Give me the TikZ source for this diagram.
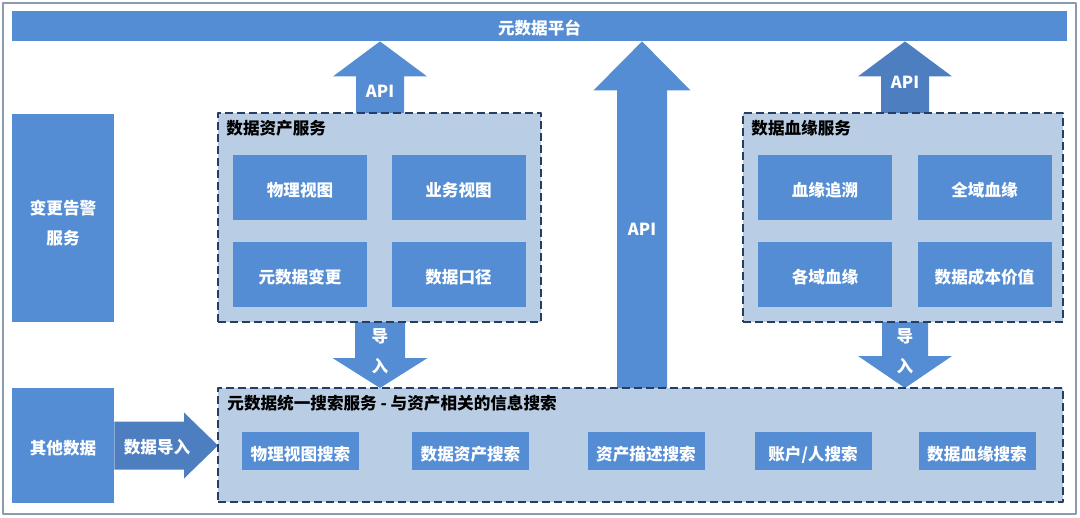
\documentclass[tikz,border=0pt]{standalone}
\usepackage{fontspec}
\setmainfont{Noto Sans CJK SC}
\usetikzlibrary{calc}
\definecolor{mainblue}{RGB}{84,141,212}
\definecolor{darkblue}{RGB}{76,126,192}
\definecolor{paleblue}{RGB}{185,205,228}
\definecolor{navy}{RGB}{38,62,100}
\definecolor{framegray}{RGB}{140,154,174}
% block arrow: style, from, to, shaft half width, head half width, head length
\newcommand\blkarrow[6]{%
  \path (#3) coordinate (tip) ($(#3)!#6!(#2)$) coordinate (hb);
  \fill[#1] ($(#2)!#4!90:(#3)$) -- ($(hb)!#4!90:(tip)$) -- ($(hb)!#5!90:(tip)$) -- (tip)
    -- ($(hb)!#5!-90:(tip)$) -- ($(hb)!#4!-90:(tip)$) -- ($(#2)!#4!-90:(#3)$) -- cycle;
}
\begin{document}
\begin{tikzpicture}[x=0.5pt,y=-0.5pt,line join=round,font=\bfseries\fontsize{8.3}{10}\selectfont]
	\tikzset{
		blk/.style={fill=mainblue,text=white,inner sep=0pt,align=center,text height=10pt,text depth=1pt},
		grp/.style={fill=paleblue,draw=navy,line width=1pt,dash pattern=on 4pt off 2pt,inner sep=0pt},
		ttl/.style={anchor=west,text=black,inner sep=0pt},
		lbl/.style={text=white,inner sep=0pt}
	}
	\useasboundingbox (0,0) rectangle (1080,518);
	\draw [framegray,line width=1pt] (3,3) rectangle (1076,514);
	\node [blk,minimum width=527.5pt,minimum height=15pt] (plat) at (539.5,26) {元数据平台};
	\node [blk,text height=27pt,minimum width=51pt,minimum height=104pt] (alarm) at (63,218) {变更告警\\[5pt]服务};
	\node [blk,minimum width=51pt,minimum height=57.5pt] (other) at (63,445.5) {其他数据};
	% arrows first, the dashed borders lie over them
	\path (642,388) coordinate (sn) (380,322) coordinate (dn) (905,322) coordinate (ln);
	\blkarrow{mainblue}{380,113}{plat.south -| dn}{12pt}{23.5pt}{17.5pt}
	\blkarrow{mainblue}{sn}{plat.south -| sn}{12.5pt}{24.25pt}{24.5pt}
	\blkarrow{darkblue}{905,113}{plat.south -| ln}{12pt}{23.5pt}{17.5pt}
	\blkarrow{mainblue}{dn}{380,388}{12.5pt}{23.75pt}{15pt}
	\blkarrow{mainblue}{ln}{905,388}{11.5pt}{23.5pt}{16pt}
	\blkarrow{darkblue}{other.east}{218,445.5}{12pt}{16.5pt}{17pt}
	\node [grp,minimum width=161.5pt,minimum height=104.5pt] (asset) at (379.5,217.5) {};
	\node [grp,minimum width=160pt,minimum height=104.5pt] (lineage) at (903,217.5) {};
	\node [grp,minimum width=422.5pt,minimum height=57pt] (search) at (640.5,445) {};
	\node [ttl] (assetttl) at (226,128) {数据资产服务};
	\node [ttl] (lineagettl) at (751,128) {数据血缘服务};
	\node [ttl] (searchttl) at (227,403) {元数据统一搜索服务 - 与资产相关的信息搜索};
	\foreach \n/\x/\y/\t in {pv/300/187.5/物理视图,bv/458.5/187.5/业务视图,mc/300/274/元数据变更,dc/458.5/274/数据口径,
		lt/825/187.5/血缘追溯,gl/984.5/187.5/全域血缘,dl/825/274/各域血缘,cv/984.5/274/数据成本价值}{
		\node [blk,minimum width=67pt,minimum height=32.5pt] (\n) at (\x,\y) {\t};
	}
	\foreach \n/\x/\t in {spv/300.5/物理视图搜索,sda/470.5/数据资产搜索,sad/646/资产描述搜索,sac/813/{账户/人搜索},sdl/977/数据血缘搜索}{
		\node [blk,minimum width=58.5pt,minimum height=19pt] (\n) at (\x,451) {\t};
	}
	\node [lbl] (api1) at (380,91) {API};
	\node [lbl] (api2) at (642,229) {API};
	\node [lbl] (api3) at (905,82) {API};
	\node [lbl] (in1) at (380,336) {导};
	\node [lbl] (in1b) at (380,366) {入};
	\node [lbl] (in2) at (905,336) {导};
	\node [lbl] (in2b) at (905,366) {入};
	\node [lbl] (imp) at (157,447) {数据导入};
\end{tikzpicture}
\end{document}
